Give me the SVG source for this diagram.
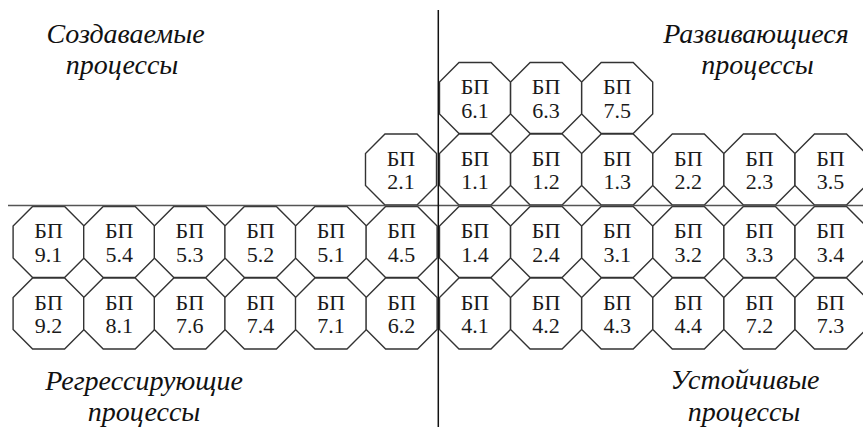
<svg xmlns="http://www.w3.org/2000/svg" xmlns:xlink="http://www.w3.org/1999/xlink" width="863" height="427" viewBox="0 0 863 427">
<style>
.oct{fill:#fff;stroke:#333;stroke-width:1.4}
.t{font-family:'Liberation Serif','Times New Roman',serif;font-size:22px;fill:#1a1a1a;text-anchor:middle}
.q{font-family:'Liberation Serif','Times New Roman',serif;font-style:italic;font-size:28px;fill:#111;text-anchor:middle}
.ax{stroke:#111;stroke-width:1.5;fill:none}
.axh{stroke:#555;stroke-width:1.6;fill:none}
</style>
<defs>
<polygon id="oct" class="oct" points="-16,-35.5 16,-35.5 35.5,-16 35.5,16 16,35.5 -16,35.5 -35.5,16 -35.5,-16"/>
</defs>
<rect width="863" height="427" fill="#fff"/>
<g id="labels">
<text class="q" x="125.5" y="43.3">Создаваемые</text>
<text class="q" x="122" y="74">процессы</text>
<text class="q" x="756" y="43.3">Развивающиеся</text>
<text class="q" x="757.5" y="74">процессы</text>
<text class="q" x="144" y="390">Регрессирующие</text>
<text class="q" x="144" y="421">процессы</text>
<text class="q" x="745" y="389">Устойчивые</text>
<text class="q" x="744" y="421">процессы</text>
</g>
<g id="n61" transform="translate(475,98)"><use xlink:href="#oct"/><text class="t" y="-4">БП</text><text class="t" y="19.7">6.1</text></g>
<g id="n63" transform="translate(546.1,98)"><use xlink:href="#oct"/><text class="t" y="-4">БП</text><text class="t" y="19.7">6.3</text></g>
<g id="n75" transform="translate(617.2,98)"><use xlink:href="#oct"/><text class="t" y="-4">БП</text><text class="t" y="19.7">7.5</text></g>
<g id="n21" transform="translate(401,169.5)"><use xlink:href="#oct"/><text class="t" y="-4">БП</text><text class="t" y="19.7">2.1</text></g>
<g id="n11" transform="translate(475,169.5)"><use xlink:href="#oct"/><text class="t" y="-4">БП</text><text class="t" y="19.7">1.1</text></g>
<g id="n12" transform="translate(546.1,169.5)"><use xlink:href="#oct"/><text class="t" y="-4">БП</text><text class="t" y="19.7">1.2</text></g>
<g id="n13" transform="translate(617.2,169.5)"><use xlink:href="#oct"/><text class="t" y="-4">БП</text><text class="t" y="19.7">1.3</text></g>
<g id="n22" transform="translate(688.3,169.5)"><use xlink:href="#oct"/><text class="t" y="-4">БП</text><text class="t" y="19.7">2.2</text></g>
<g id="n23" transform="translate(759.4,169.5)"><use xlink:href="#oct"/><text class="t" y="-4">БП</text><text class="t" y="19.7">2.3</text></g>
<g id="n35" transform="translate(830.5,169.5)"><use xlink:href="#oct"/><text class="t" y="-4">БП</text><text class="t" y="19.7">3.5</text></g>
<g id="n91" transform="translate(48.6,242)"><use xlink:href="#oct"/><text class="t" y="-4">БП</text><text class="t" y="19.7">9.1</text></g>
<g id="n54" transform="translate(119.2,242)"><use xlink:href="#oct"/><text class="t" y="-4">БП</text><text class="t" y="19.7">5.4</text></g>
<g id="n53" transform="translate(189.8,242)"><use xlink:href="#oct"/><text class="t" y="-4">БП</text><text class="t" y="19.7">5.3</text></g>
<g id="n52" transform="translate(260.4,242)"><use xlink:href="#oct"/><text class="t" y="-4">БП</text><text class="t" y="19.7">5.2</text></g>
<g id="n51" transform="translate(331,242)"><use xlink:href="#oct"/><text class="t" y="-4">БП</text><text class="t" y="19.7">5.1</text></g>
<g id="n45" transform="translate(401.6,242)"><use xlink:href="#oct"/><text class="t" y="-4">БП</text><text class="t" y="19.7">4.5</text></g>
<g id="n14" transform="translate(475,242)"><use xlink:href="#oct"/><text class="t" y="-4">БП</text><text class="t" y="19.7">1.4</text></g>
<g id="n24" transform="translate(546.1,242)"><use xlink:href="#oct"/><text class="t" y="-4">БП</text><text class="t" y="19.7">2.4</text></g>
<g id="n31" transform="translate(617.2,242)"><use xlink:href="#oct"/><text class="t" y="-4">БП</text><text class="t" y="19.7">3.1</text></g>
<g id="n32" transform="translate(688.3,242)"><use xlink:href="#oct"/><text class="t" y="-4">БП</text><text class="t" y="19.7">3.2</text></g>
<g id="n33" transform="translate(759.4,242)"><use xlink:href="#oct"/><text class="t" y="-4">БП</text><text class="t" y="19.7">3.3</text></g>
<g id="n34" transform="translate(830.5,242)"><use xlink:href="#oct"/><text class="t" y="-4">БП</text><text class="t" y="19.7">3.4</text></g>
<g id="n92" transform="translate(48.6,313.5)"><use xlink:href="#oct"/><text class="t" y="-4">БП</text><text class="t" y="19.7">9.2</text></g>
<g id="n81" transform="translate(119.2,313.5)"><use xlink:href="#oct"/><text class="t" y="-4">БП</text><text class="t" y="19.7">8.1</text></g>
<g id="n76" transform="translate(189.8,313.5)"><use xlink:href="#oct"/><text class="t" y="-4">БП</text><text class="t" y="19.7">7.6</text></g>
<g id="n74" transform="translate(260.4,313.5)"><use xlink:href="#oct"/><text class="t" y="-4">БП</text><text class="t" y="19.7">7.4</text></g>
<g id="n71" transform="translate(331,313.5)"><use xlink:href="#oct"/><text class="t" y="-4">БП</text><text class="t" y="19.7">7.1</text></g>
<g id="n62" transform="translate(401.6,313.5)"><use xlink:href="#oct"/><text class="t" y="-4">БП</text><text class="t" y="19.7">6.2</text></g>
<g id="n41" transform="translate(475,313.5)"><use xlink:href="#oct"/><text class="t" y="-4">БП</text><text class="t" y="19.7">4.1</text></g>
<g id="n42" transform="translate(546.1,313.5)"><use xlink:href="#oct"/><text class="t" y="-4">БП</text><text class="t" y="19.7">4.2</text></g>
<g id="n43" transform="translate(617.2,313.5)"><use xlink:href="#oct"/><text class="t" y="-4">БП</text><text class="t" y="19.7">4.3</text></g>
<g id="n44" transform="translate(688.3,313.5)"><use xlink:href="#oct"/><text class="t" y="-4">БП</text><text class="t" y="19.7">4.4</text></g>
<g id="n72" transform="translate(759.4,313.5)"><use xlink:href="#oct"/><text class="t" y="-4">БП</text><text class="t" y="19.7">7.2</text></g>
<g id="n73" transform="translate(830.5,313.5)"><use xlink:href="#oct"/><text class="t" y="-4">БП</text><text class="t" y="19.7">7.3</text></g>
<g id="connectors">
<line class="axh" x1="8" y1="205.5" x2="863" y2="205.5"/>
<line class="ax" x1="438.3" y1="10" x2="438.3" y2="427"/>
</g>
</svg>
